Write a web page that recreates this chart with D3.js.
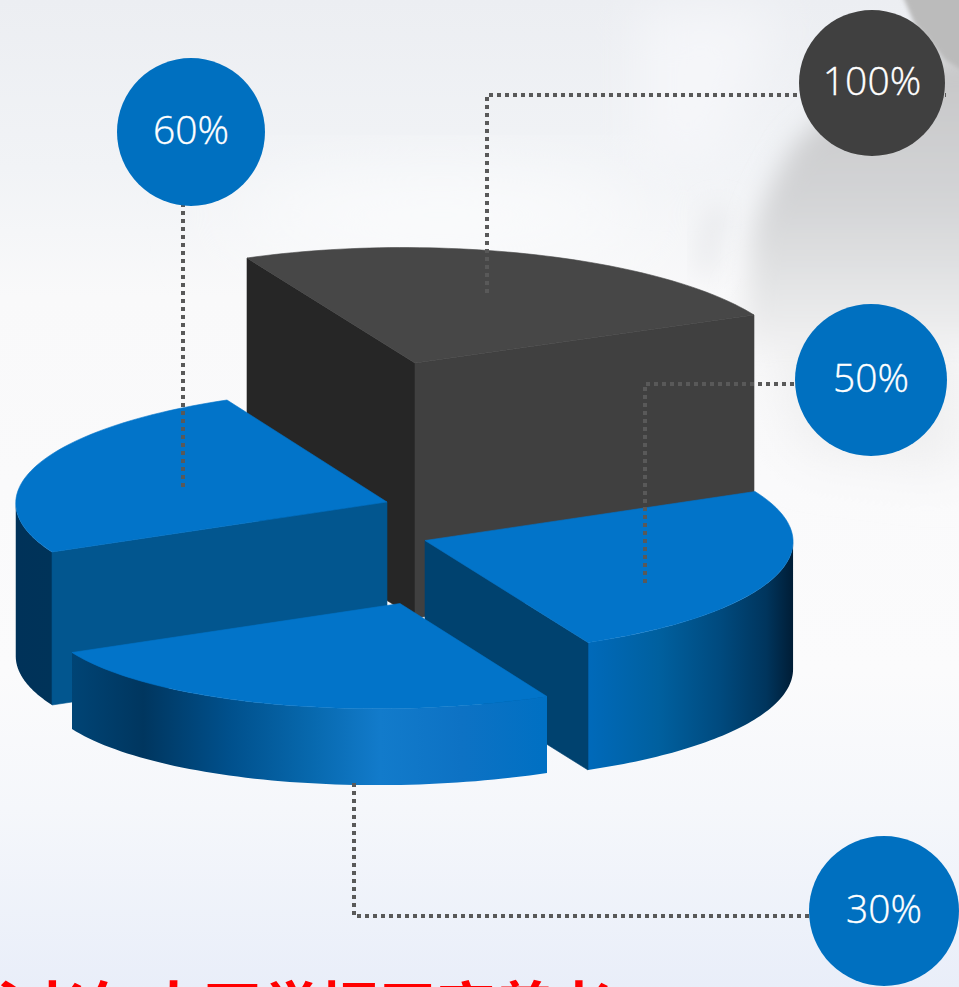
<!DOCTYPE html>
<html>
<head>
<meta charset="utf-8">
<script src="https://cdn.jsdelivr.net/npm/d3@7/dist/d3.min.js"></script>
<style>
html,body{margin:0;padding:0;overflow:hidden;background:#fff}
svg{display:block}
</style>
</head>
<body>
<svg id="chart" width="959" height="987"></svg>
<script>
// Chart values, in pie order starting from the right-hand wedge and running clockwise
const sliceNames = ["right", "front", "left", "back"];
const sliceValues = [50, 30, 60, 100];
const sliceShares = [1, 1, 1, 1];
const titleText = "戈老年大开学招平高养老";

const W = 959, H = 987;
const svg = d3.select("#chart");
const defs = svg.append("defs");

// Wedge height grows with its percentage
const heightScale = d3.scaleLinear().domain([0, 100]).range([0, 255]);

// Projected floor position and radius vectors of each exploded wedge
const geometry = {
  right: {apex: [425, 668], a: [330, -49], b: [163, 102]},
  front: {apex: [400, 680], a: [328, -49], b: [147, 93]},
  left:  {apex: [387, 655], a: [335, -50], b: [160, 102]},
  back:  {apex: [415, 618], a: [339, -48], b: [168, 105]}
};

const blueTop = "#0274c9";
const styles = {
  right: {top: blueTop, endFace: "#00426f", wall: "wallRight"},
  front: {top: blueTop, wall: "wallFront"},
  left:  {top: blueTop, startFace: "#02568f", wall: "wallLeft"},
  back:  {top: "#474747", startFace: "#262626", endFace: "#404040", wall: null}
};

// Wall shading runs horizontally across the screen
function wallGradient(id, x1, x2, stops) {
  const g = defs.append("linearGradient").attr("id", id)
    .attr("gradientUnits", "userSpaceOnUse")
    .attr("x1", x1).attr("x2", x2).attr("y1", 0).attr("y2", 0);
  stops.forEach(([o, c]) => g.append("stop").attr("offset", o).attr("stop-color", c));
}
wallGradient("wallRight", 586, 793, [[0, "#006abb"], [0.35, "#00609f"], [0.65, "#004a7e"], [0.87, "#00355d"], [1, "#001d36"]]);
wallGradient("wallFront", 72, 547, [[0, "#004475"], [0.15, "#00365f"], [0.33, "#00508c"], [0.5, "#0768ad"], [0.65, "#127bcb"], [0.82, "#0d72c4"], [1, "#0070c3"]]);
wallGradient("wallLeft", 15, 52, [[0, "#003259"], [1, "#003359"]]);

// Page backdrop
const bg = defs.append("linearGradient").attr("id", "page").attr("x1", 0).attr("x2", 0).attr("y1", 0).attr("y2", 1);
[[0, "#eceef2"], [0.17, "#f1f3f6"], [0.3, "#f9f9fa"], [0.68, "#fbfbfc"], [0.82, "#f5f7fb"], [1, "#e9eef9"]]
  .forEach(([o, c]) => bg.append("stop").attr("offset", o).attr("stop-color", c));
const foldShade = defs.append("linearGradient").attr("id", "foldShade")
  .attr("gradientUnits", "userSpaceOnUse").attr("x1", 0).attr("x2", 0).attr("y1", 60).attr("y2", 340);
[[0, "#c6c6c7"], [0.5, "#d3d4d6"], [0.8, "#e3e4e5"], [1, "#efeff0"]]
  .forEach(([o, c]) => foldShade.append("stop").attr("offset", o).attr("stop-color", c));
[["soft", 26], ["softer", 13], ["softest", 40], ["tight", 2]].forEach(([id, s]) => {
  defs.append("filter").attr("id", id).attr("x", "-50%").attr("y", "-50%").attr("width", "200%").attr("height", "200%")
    .append("feGaussianBlur").attr("stdDeviation", s);
});

svg.append("rect").attr("width", W).attr("height", H).attr("fill", "url(#page)");

// Soft fabric-like folds behind the pie
const folds = svg.append("g");
folds.append("ellipse").attr("cx", 440).attr("cy", 215).attr("rx", 210).attr("ry", 40)
  .attr("fill", "#fbfcfd").attr("filter", "url(#softest)");
folds.append("path").attr("d", "M780,10 L640,10 L640,170 L720,170 Z")
  .attr("fill", "#f5f6f9").attr("filter", "url(#soft)");
folds.append("path").attr("d", "M760,300 L959,330 L959,470 L800,450 Z")
  .attr("fill", "#eeeeef").attr("filter", "url(#soft)");
folds.append("path").attr("d", "M1000,50 L890,60 L795,143 C775,175 760,205 752,235 L745,345 L1000,345 Z")
  .attr("fill", "url(#foldShade)").attr("filter", "url(#softer)");
folds.append("path").attr("d", "M716,205 C704,225 698,250 702,275 L712,275 C712,250 718,230 728,212 Z")
  .attr("fill", "#e2e3e6").attr("filter", "url(#softer)");
folds.append("path").attr("d", "M900,-10 L975,-10 L975,78 L945,60 L915,25 Z")
  .attr("fill", "#bbbbbb").attr("filter", "url(#tight)");

// Quarter-circle wedges from the pie layout, with angle 0 along vector a and pi/2 along vector b
const pieLayout = d3.pie().value(d => d).sort(null).startAngle(0).endAngle(2 * Math.PI);
const arcs = pieLayout(sliceShares);
const line = d3.line();

const wedges = sliceNames.map((name, i) => {
  const g = geometry[name];
  const h = heightScale(sliceValues[i]);
  const at = (t, lift) => [
    g.apex[0] + g.a[0] * Math.cos(t) + g.b[0] * Math.sin(t),
    g.apex[1] + g.a[1] * Math.cos(t) + g.b[1] * Math.sin(t) - lift
  ];
  const t0 = arcs[i].startAngle, t1 = arcs[i].endAngle;
  const sweep = (from, to) => d3.range(0, 61).map(k => from + (to - from) * k / 60);
  // The outer wall faces the viewer only between the two silhouette angles
  const tSil = Math.atan2(g.b[0], g.a[0]);
  const wallFrom = Math.max(t0, tSil), wallTo = Math.min(t1, tSil + Math.PI);
  return {name, h, at, t0, t1, ts: sweep(t0, t1), wallTs: wallTo > wallFrom ? sweep(wallFrom, wallTo) : [],
          style: styles[name], apex: g.apex};
});

// Painter's order: back wedge first, front wedge last
const drawOrder = ["back", "left", "right", "front"];
const pieGroup = svg.append("g");
const paint = (sel, color) => sel.attr("fill", color).attr("stroke", color).attr("stroke-width", 0.6);
drawOrder.forEach(name => {
  const w = wedges.find(d => d.name === name);
  const g = pieGroup.append("g").attr("class", "wedge-" + name);
  const face = (t, color) => {
    g.append("path").call(paint, color).attr("d", line([
      [w.apex[0], w.apex[1] - w.h], w.at(t, w.h), w.at(t, 0), w.apex
    ]) + "Z");
  };
  if (w.style.wall && w.wallTs.length) {
    const upper = w.wallTs.map(t => w.at(t, w.h));
    const lower = w.wallTs.map(t => w.at(t, 0)).reverse();
    g.append("path").attr("fill", `url(#${w.style.wall})`).attr("d", line(upper.concat(lower)) + "Z");
  }
  if (w.style.startFace) face(w.t0, w.style.startFace);
  if (w.style.endFace) face(w.t1, w.style.endFace);
  const top = [[w.apex[0], w.apex[1] - w.h]].concat(w.ts.map(t => w.at(t, w.h)));
  g.append("path").call(paint, w.style.top).attr("d", line(top) + "Z");
});

// Dotted leader lines and their value badges
const callouts = {
  left:  {cx: 191, cy: 132, r: 74, fill: "#0070c0", path: [[183, 487], [183, 205]]},
  back:  {cx: 872, cy: 83,  r: 73, fill: "#404040", path: [[487, 293], [487, 95], [946, 95]]},
  right: {cx: 871, cy: 380, r: 76, fill: "#0070c0", path: [[645, 583], [645, 384], [950, 384]]},
  front: {cx: 884, cy: 911, r: 75, fill: "#0070c0", path: [[354, 783], [354, 916], [810, 916]]}
};
const leaderGroup = svg.append("g");
const badgeGroup = svg.append("g");
sliceNames.forEach((name, i) => {
  const c = callouts[name];
  leaderGroup.append("path").attr("d", line(c.path)).attr("fill", "none")
    .attr("stroke", "#595959").attr("stroke-width", 4).attr("stroke-dasharray", "4 4");
  badgeGroup.append("circle").attr("cx", c.cx).attr("cy", c.cy).attr("r", c.r).attr("fill", c.fill);
  badgeGroup.append("text").attr("x", c.cx).attr("y", c.cy + 12)
    .attr("text-anchor", "middle").attr("fill", "#fff").attr("stroke", "#fff").attr("stroke-width", 0.35)
    .attr("font-family", "'Open Sans','Noto Sans',sans-serif").attr("font-weight", 300).attr("font-size", 39)
    .text(sliceValues[i] + "%");
});

// Heading running off the bottom edge
svg.append("text").attr("x", -31).attr("y", 1030)
  .attr("fill", "#ff0000").attr("font-weight", 700)
  .attr("font-family", "'Noto Sans CJK SC',sans-serif").attr("font-size", 58.5)
  .text(titleText);
</script>
</body>
</html>
